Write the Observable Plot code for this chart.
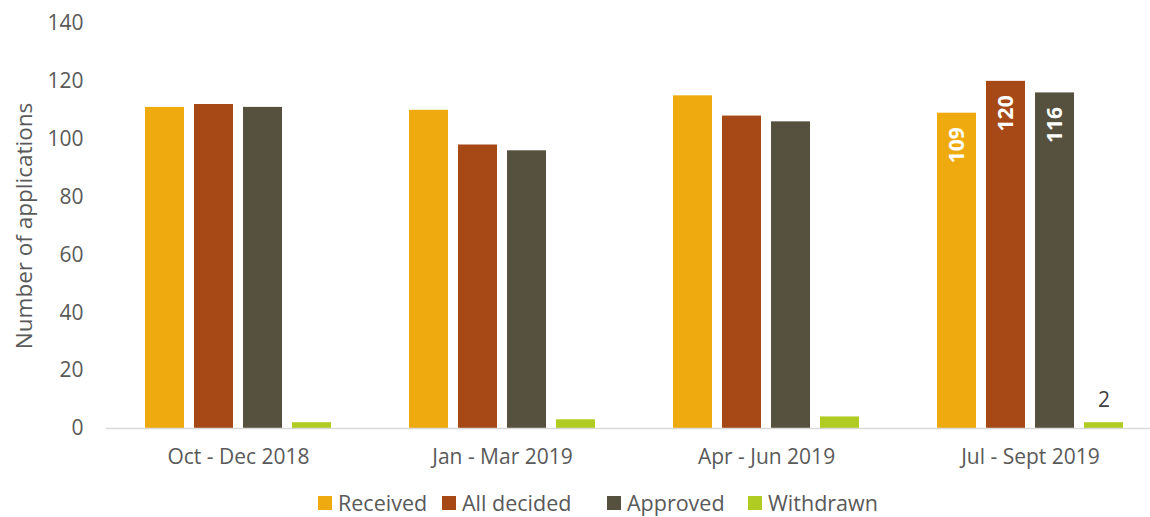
<!DOCTYPE html>
<html><head><meta charset="utf-8">
<script src="https://cdn.jsdelivr.net/npm/d3@7"></script>
<script src="https://cdn.jsdelivr.net/npm/@observablehq/plot@0.6"></script>
<style>
body{margin:0;background:#fff;font-family:"Open Sans",sans-serif;}
#legend{position:relative;width:1150px;height:37px;font-size:21.5px;line-height:1.05;color:#595959;}
#legend .item{position:absolute;top:12px;display:flex;align-items:center;white-space:nowrap;}
#legend .sw{width:14px;height:14px;margin-right:6px;}
</style></head><body><div id="chart"></div><div id="legend"></div>
<script>
const periods = ["Oct - Dec 2018", "Jan - Mar 2019", "Apr - Jun 2019", "Jul - Sept 2019"];
const series = ["Received", "All decided", "Approved", "Withdrawn"];
const colors = ["#EEAA0E", "#A64917", "#56503E", "#B0CB21"];
const received = [111, 110, 115, 109];
const allDecided = [112, 98, 108, 120];
const approved = [111, 96, 106, 116];
const withdrawn = [2, 3, 4, 2];
const yTicks = [0, 20, 40, 60, 80, 100, 120, 140];
const labelledPeriod = "Jul - Sept 2019";

const seriesValues = [received, allDecided, approved, withdrawn];
const data = periods.flatMap((p, i) => series.map((s, j) => ({period: p, series: s, value: seriesValues[j][i]})));
const labelled = data.filter(d => d.period === labelledPeriod);

const chart = Plot.plot({
  width: 1150, height: 480,
  marginLeft: 104, marginRight: 0, marginTop: 23, marginBottom: 52,
  style: {fontFamily: "Open Sans", fontSize: "21px", color: "#595959", background: "#fff", overflow: "visible"},
  fx: {domain: periods, range: [106, 1162], padding: 0, label: null},
  x: {domain: series, paddingInner: 0.208, paddingOuter: 0.75, axis: null},
  y: {domain: [0, 140]},
  color: {domain: series, range: colors},
  marks: [
    Plot.axisY({ticks: yTicks, tickSize: 0, tickPadding: 23, label: null, fill: "#595959", fontSize: 21}),
    Plot.axisY({ticks: [], tickSize: 0, label: "Number of applications", labelArrow: "none", labelAnchor: "center", labelOffset: 90, fill: "#595959", fontSize: 22.5}),
    Plot.axisFx({anchor: "bottom", tickSize: 0, tickPadding: 21, label: null, fill: "#595959", fontSize: 21}),
    Plot.barY(data, {fx: "period", x: "series", y: "value", fill: "series"}),
    Plot.ruleY([0], {stroke: "#d9d9d9", strokeWidth: 1.5}),
    Plot.text(labelled.filter(d => d.series !== "Withdrawn"), {fx: "period", x: "series", y: "value", text: d => String(d.value), rotate: -90, textAnchor: "end", dy: 14, fill: "white", fontWeight: "bold", fontSize: 21}),
    Plot.text(labelled.filter(d => d.series === "Withdrawn"), {fx: "period", x: "series", y: "value", text: d => String(d.value), lineAnchor: "bottom", dy: -16, fill: "#404040", fontSize: 21})
  ]
});
document.getElementById("chart").appendChild(chart);

const legendLefts = [318, 442, 607, 748];
const legend = document.getElementById("legend");
series.forEach((s, i) => {
  const item = document.createElement("div");
  item.className = "item";
  item.style.left = legendLefts[i] + "px";
  const sw = document.createElement("div");
  sw.className = "sw";
  sw.style.background = colors[i];
  const t = document.createElement("span");
  t.textContent = s;
  item.appendChild(sw); item.appendChild(t);
  legend.appendChild(item);
});
</script>
</body></html>
